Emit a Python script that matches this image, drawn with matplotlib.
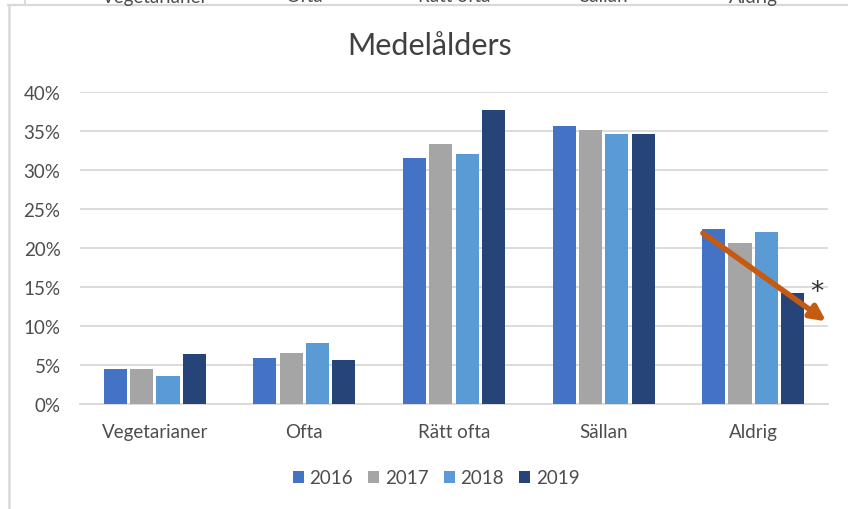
import matplotlib
matplotlib.use("Agg")
import matplotlib.pyplot as plt
import numpy as np
from matplotlib.lines import Line2D
from matplotlib.patches import Patch

categories = ["Vegetarianer", "Ofta", "Rätt ofta", "Sällan", "Aldrig"]
years = ["2016", "2017", "2018", "2019"]
v2016 = [0.045, 0.059, 0.315, 0.357, 0.224]
v2017 = [0.045, 0.065, 0.333, 0.351, 0.206]
v2018 = [0.036, 0.078, 0.321, 0.346, 0.221]
v2019 = [0.064, 0.056, 0.377, 0.346, 0.142]
yticks = [0.0, 0.05, 0.10, 0.15, 0.20, 0.25, 0.30, 0.35, 0.40]
ytick_labels = ["0%", "5%", "10%", "15%", "20%", "25%", "30%", "35%", "40%"]
title = "Medelålders"

series = [v2016, v2017, v2018, v2019]
colors = ["#4472C4", "#A5A5A5", "#5B9BD5", "#264478"]
FONT = "Lato"
TXT = "#4d4d4d"
FS = 13.5

W, H = 848, 510
fig = plt.figure(figsize=(W / 100, H / 100), dpi=100)
fig.patch.set_facecolor("white")

# frame lines (chart border + previous chart's border)
fig.add_artist(Line2D([8 / W, 1], [1 - 6 / H, 1 - 6 / H], color="#D9D9D9", lw=1.6))
fig.add_artist(Line2D([9 / W, 9 / W], [0, 1 - 6 / H], color="#D9D9D9", lw=1.8))
fig.add_artist(Line2D([24.5 / W, 24.5 / W], [1 - 5 / H, 1], color="#D9D9D9", lw=1.4))

left, right, bottom, top = 80, 828, 405, 93
ax = fig.add_axes([left / W, 1 - bottom / H, (right - left) / W, (bottom - top) / H])
x = np.arange(len(categories))
step = 0.176
width = 0.155
for i, (vals, c, yr) in enumerate(zip(series, colors, years)):
    ax.bar(x + (i - 1.5) * step, vals, width=width, color=c, label=yr, zorder=3)

ax.set_xlim(-0.5, len(categories) - 0.5)
ax.set_ylim(0, 0.40)
ax.set_yticks(yticks)
ax.set_yticklabels(ytick_labels, fontfamily=FONT, fontsize=FS, color=TXT)
ax.set_xticks(x)
ax.set_xticklabels(categories, fontfamily=FONT, fontsize=FS, color=TXT)
ax.tick_params(axis="both", length=0)
ax.tick_params(axis="y", pad=14)
ax.tick_params(axis="x", pad=14)
ax.grid(axis="y", color="#D9D9D9", lw=1.3, zorder=0)
for s in ["top", "right", "left"]:
    ax.spines[s].set_visible(False)
ax.spines["bottom"].set_color("#D9D9D9")
ax.spines["bottom"].set_linewidth(1.3)
ax.spines["bottom"].set_zorder(2)

# trend arrow over "Aldrig"
ai = categories.index("Aldrig")
ax.annotate("", xy=(ai + 0.487, 0.106), xytext=(ai - 0.336, v2016[ai] - 0.005),
            arrowprops=dict(arrowstyle="-|>,head_length=0.9,head_width=0.45",
                            color="#C55A11", lw=4, shrinkA=0, shrinkB=0),
            zorder=5, annotation_clip=False)
ax.text(ai + 0.425, v2019[ai] + 0.001, "*", fontsize=19, color="#333333",
        ha="center", va="center", fontfamily="DejaVu Sans")

fig.text(430 / W, 1 - 46 / H, title, ha="center", va="center",
         fontfamily=FONT, fontsize=22, color="#404040")

# cut-off labels of the chart above
for xi, cat in zip(x, categories):
    xp = ax.transData.transform((xi, 0))[0] / W
    fig.text(xp, 1 - 2.5 / H, cat, ha="center", va="baseline",
             fontfamily=FONT, fontsize=FS, color=TXT)

handles = [Patch(facecolor=c, edgecolor="none") for c in colors]
fig.legend(handles, years, loc="center", bbox_to_anchor=(436 / W, 1 - 479 / H),
           ncol=4, frameon=False, prop={"family": FONT, "size": FS},
           labelcolor=TXT, handlelength=0.6, handleheight=0.6,
           handletextpad=0.3, columnspacing=0.8)

fig.savefig("out.png", dpi=100, facecolor="white")
